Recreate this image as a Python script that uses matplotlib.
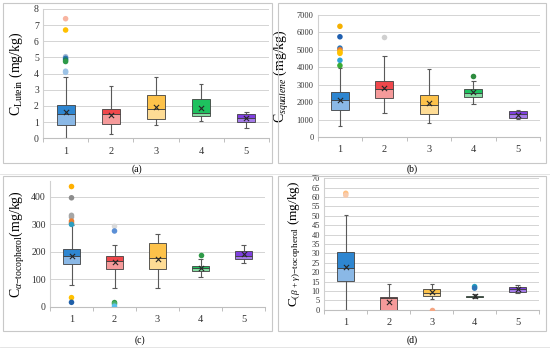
import matplotlib
matplotlib.use('Agg')
import matplotlib.pyplot as plt
from matplotlib.lines import Line2D

plt.rcParams['font.family'] = ['Liberation Serif', 'DejaVu Serif']
plt.rcParams['mathtext.fontset'] = 'custom'
plt.rcParams['mathtext.rm'] = 'Liberation Serif'
plt.rcParams['mathtext.it'] = 'Liberation Serif:italic'

groups = ['1', '2', '3', '4', '5']

# (a) lutein
lut_lo = [0.0, 0.25, 0.82, 1.08, 0.63]
lut_q1 = [0.83, 0.86, 1.17, 1.40, 1.00]
lut_med = [1.50, 1.50, 1.81, 1.59, 1.27]
lut_q3 = [2.06, 1.83, 2.66, 2.46, 1.50]
lut_hi = [3.77, 3.22, 3.77, 3.35, 1.60]
lut_mean = [1.60, 1.46, 1.96, 1.90, 1.23]
lut_out = [[7.4, 6.7, 5.05, 4.95, 4.85, 4.75, 4.15, 4.08], [], [], [], []]
lut_out_col = [['#f8b4a0', '#ffc000', '#a9bcd6', '#2e75b6', '#1f7a6a', '#2e9a48', '#9dc3e6', '#9dc3e6'],
               [], [], [], []]

# (b) squalene
squ_lo = [630, 1393, 784, 1876, 1038]
squ_q1 = [1565, 2233, 1338, 2276, 1095]
squ_med = [2099, 2767, 1816, 2543, 1305]
squ_q3 = [2557, 3225, 2409, 2752, 1495]
squ_hi = [3950, 4676, 3881, 3210, 1552]
squ_mean = [2137, 2824, 1950, 2581, 1248]
squ_out = [[6350, 5750, 5100, 5000, 4880, 4800, 4400, 4100], [5720], [], [3520], []]
squ_out_col = [['#f5b000', '#1f5fb0', '#2e75b6', '#ed7d31', '#ffc000', '#ffc000', '#2ea3d6', '#3aaa35'],
               ['#d0d0d0'], [], ['#2e8b3e'], []]

# (c) alpha-tocopherol
ato_lo = [79, 69, 67, 109, 160]
ato_q1 = [156, 139, 136, 130, 173]
ato_med = [185, 165, 176, 140, 185]
ato_q3 = [211, 186, 231, 150, 204]
ato_hi = [296, 225, 264, 173, 225]
ato_mean = [185, 162, 173, 142, 192]
ato_out = [[438, 397, 333, 327, 312, 305, 300, 33, 16], [293, 276, 15, 10, 2], [], [188], []]
ato_out_col = [['#ffb000', '#8c8c8c', '#a6a6a6', '#a6a6a6', '#ed7d31', '#ed7d31', '#2e9ec0', '#ffc000', '#1f5fa8'],
               ['#d9d9d9', '#5b8fd6', '#2e9a48', '#4db06a', '#5bc0eb'], [], ['#2e9a48'], []]

# (d) beta+gamma-tocopherol
bgt_lo = [0.0, 0.0, 5.9, 6.0, 8.9]
bgt_q1 = [15.5, 0.0, 7.3, 6.6, 9.6]
bgt_med = [22.0, 6.3, 9.0, 6.9, 10.8]
bgt_q3 = [30.6, 7.0, 10.8, 7.2, 11.9]
bgt_hi = [50.4, 13.5, 13.8, 8.5, 13.3]
bgt_mean = [22.7, 3.9, 9.4, 7.3, 11.0]
bgt_out = [[62.0, 61.0], [], [0.0], [12.3, 11.5], []]
bgt_out_col = [['#ffc080', '#f8cbad'], [], ['#f4a582'], ['#1fa0c0', '#2e75b6'], []]

dark = ['#2e86d1', '#f0474b', '#fdc24a', '#1ec15e', '#7f3fe0']
light = ['#8ab8e6', '#f59a9a', '#fedc95', '#86dca2', '#a47ae8']


def draw_panel(ax, lo, q1, med, q3, hi, mean, out, out_col, ymax, step, ylabel, fs, pad):
    x = list(range(1, len(groups) + 1))
    w = 0.4
    ax.vlines(x, lo, q1, color='#595959', lw=0.8, zorder=2)
    ax.vlines(x, q3, hi, color='#595959', lw=0.8, zorder=2)
    for xi, l, h in zip(x, lo, hi):
        ax.hlines([l, h], xi - 0.05, xi + 0.05, color='#595959', lw=0.8, zorder=2)
    ax.bar(x, [m - a for m, a in zip(med, q1)], bottom=q1, width=w, color=light,
           edgecolor='#404040', lw=0.6, zorder=3)
    ax.bar(x, [b - m for b, m in zip(q3, med)], bottom=med, width=w, color=dark,
           edgecolor='#404040', lw=0.6, zorder=3)
    ax.scatter(x, mean, marker='x', color='#262626', s=14, lw=0.8, zorder=4)
    for xi, vals, cols in zip(x, out, out_col):
        if vals:
            ax.scatter([xi] * len(vals), vals, c=cols, s=16, lw=0, zorder=5)
    ax.set_xlim(0.5, len(groups) + 0.5)
    ax.set_ylim(0, ymax)
    yt = []
    v = 0
    while v <= ymax + 1e-9:
        yt.append(v)
        v += step
    ax.set_yticks(yt)
    ax.set_xticks(x)
    ax.set_xticklabels(groups, fontsize=7.5, color='#333333')
    ax.tick_params(axis='x', length=0, pad=6)
    ax.tick_params(axis='y', length=0, labelsize=fs, pad=3, labelcolor='#333333')
    ax.set_xticks([i + 0.5 for i in range(0, len(groups) + 1)], minor=True)
    ax.tick_params(axis='x', which='minor', length=3, color='#bfbfbf', width=0.7)
    ax.grid(axis='y', color='#d4d4d4', lw=0.7, zorder=0)
    ax.set_axisbelow(True)
    for s in ['top', 'right']:
        ax.spines[s].set_visible(False)
    ax.spines['left'].set_color('#d0d0d0')
    ax.spines['bottom'].set_color('#bfbfbf')
    ax.set_ylabel(ylabel, fontsize=10, labelpad=pad)


fig = plt.figure(figsize=(5.5, 3.48), dpi=100)

# panel frames and separators
for (x0, y0, x1, y1) in [(3, 3, 272, 163), (278, 3, 546, 163), (3, 176, 272, 331), (278, 176, 546, 331)]:
    fig.add_artist(plt.Rectangle((x0 / 550, 1 - y1 / 348), (x1 - x0) / 550, (y1 - y0) / 348,
                                 transform=fig.transFigure, fill=False, ec='#c8c8c8', lw=0.8))
for yy in [174, 347]:
    fig.add_artist(Line2D([0, 1], [1 - yy / 348] * 2, transform=fig.transFigure, color='#e0e0e0', lw=0.6))

ax_a = fig.add_axes([43 / 550, 1 - 138.3 / 348, 226 / 550, 129.3 / 348])
ax_b = fig.add_axes([317.7 / 550, 1 - 137 / 348, 222.3 / 550, 122 / 348])
ax_c = fig.add_axes([50 / 550, 1 - 306.7 / 348, 215 / 550, 126.2 / 348])
ax_d = fig.add_axes([324.3 / 550, 1 - 309.7 / 348, 214.7 / 550, 131.4 / 348])

draw_panel(ax_a, lut_lo, lut_q1, lut_med, lut_q3, lut_hi, lut_mean, lut_out, lut_out_col,
           8, 1, r'C$_{\mathrm{Lutein}}$ (mg/kg)', 7, 6)
draw_panel(ax_b, squ_lo, squ_q1, squ_med, squ_q3, squ_hi, squ_mean, squ_out, squ_out_col,
           7000, 1000, r'C$_{squalene}$ (mg/kg)', 6, 4)
draw_panel(ax_c, ato_lo, ato_q1, ato_med, ato_q3, ato_hi, ato_mean, ato_out, ato_out_col,
           460, 100, r'C$_{\alpha\mathrm{-tocopherol}}$(mg/kg)', 7, 3)
ax_c.set_yticks([0, 100, 200, 300, 400])
draw_panel(ax_d, bgt_lo, bgt_q1, bgt_med, bgt_q3, bgt_hi, bgt_mean, bgt_out, bgt_out_col,
           70, 5, r'C$_{(\beta\,+\,\gamma)\mathrm{-tocopherol}}$ (mg/kg)', 6, 6)
ax_d.yaxis.label.set_fontsize(9.5)

for lab, xx, yy in [('(a)', 137, 169), ('(b)', 412, 169), ('(c)', 140, 340), ('(d)', 412, 340)]:
    fig.text(xx / 550, 1 - yy / 348, lab, ha='center', va='center', fontsize=7)

fig.savefig('out.png', dpi=100)
